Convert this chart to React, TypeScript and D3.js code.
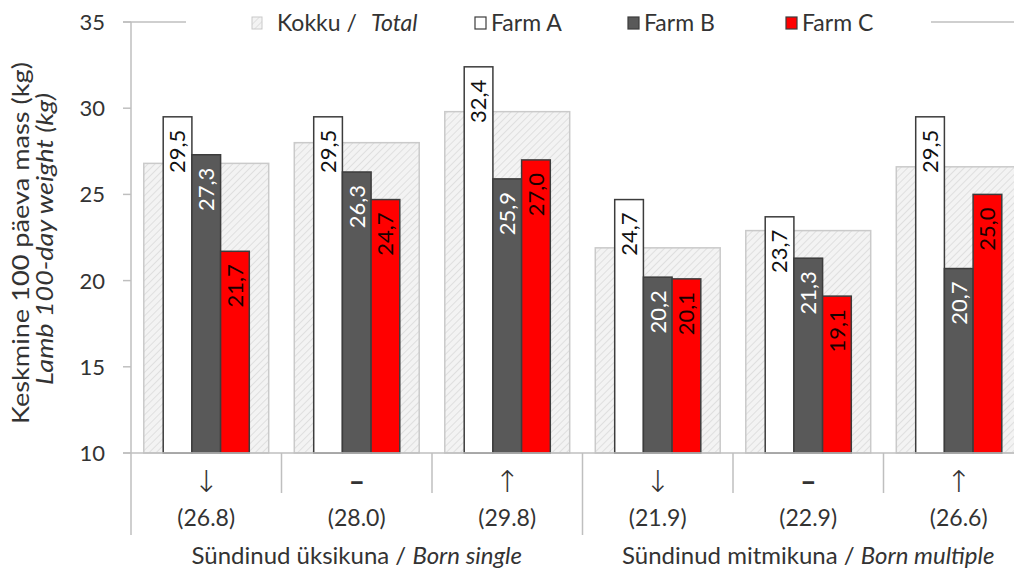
import React from "react";
import * as d3 from "d3";

// Lamb 100-day weight by birth type and farm
const categories = ["single-low", "single-mid", "single-high", "multi-low", "multi-mid", "multi-high"];
const trendMarks = ["↓", "–", "↑", "↓", "–", "↑"];
const totalValues = [26.8, 28.0, 29.8, 21.9, 22.9, 26.6];
const farmA = [29.5, 29.5, 32.4, 24.7, 23.7, 29.5];
const farmB = [27.3, 26.3, 25.9, 20.2, 21.3, 20.7];
const farmC = [21.7, 24.7, 27.0, 20.1, 19.1, 25.0];
const farmNames = ["Farm A", "Farm B", "Farm C"];
const yTicks = [10, 15, 20, 25, 30, 35];
const groupLabels = [
  { et: "Sündinud üksikuna / ", en: "Born single" },
  { et: "Sündinud mitmikuna / ", en: "Born multiple" },
];

const W = 1014;
const H = 569;
const FONT = "Lato, 'Open Sans', sans-serif";
const AXIS = "#bfbfbf";
const BORDER = "#3c3c3c";
const TEXT = "#333333";
const farmFill = ["#ffffff", "#595959", "#ff0000"];
const farmText = ["#111111", "#ffffff", "#1a0000"];

const fmt = (v: number) => v.toFixed(1).replace(".", ",");

export default function App() {
  const x = d3.scaleBand<string>().domain(categories).range([131, 1034]).padding(0);
  const y = d3.scaleLinear().domain([10, 35]).range([453, 22]);
  const bw = x.bandwidth();
  const totalW = bw * 0.83;
  const inner = d3
    .scaleBand<string>()
    .domain(farmNames)
    .range([-bw * 0.286, bw * 0.286])
    .padding(0);
  const farmSeries = [farmA, farmB, farmC];
  const base = y(10);

  return (
    <svg
      width={W}
      height={H}
      style={{ position: "absolute", left: 0, top: 0, background: "#fff" }}
      fontFamily={FONT}
    >
      <defs>
        <pattern id="hatch" width="5" height="5" patternUnits="userSpaceOnUse" patternTransform="rotate(45)">
          <rect width="5" height="5" fill="#f3f3f3" />
          <line x1="0" y1="0" x2="0" y2="5" stroke="#dadada" strokeWidth="1.6" />
        </pattern>
      </defs>

      {/* top gridline at 35 */}
      <line x1={123} x2={1034} y1={y(35)} y2={y(35)} stroke={AXIS} strokeWidth={1.5} />

      {/* y axis */}
      <line x1={131} x2={131} y1={y(35)} y2={535} stroke={AXIS} strokeWidth={1.5} />
      {yTicks.map((t) => (
        <g key={t}>
          <line x1={123} x2={131} y1={y(t)} y2={y(t)} stroke={AXIS} strokeWidth={1.5} />
          <text x={105} y={y(t)} dy="0.36em" textAnchor="end" fontSize={22} fill={TEXT}>
            {t}
          </text>
        </g>
      ))}

      {/* y axis title */}
      <text
        transform={`translate(29,243) rotate(-90)`}
        textAnchor="middle"
        fontSize={23}
        fill={TEXT}
        textLength={362}
        lengthAdjust="spacingAndGlyphs"
      >
        Keskmine 100 päeva mass (kg)
      </text>
      <text
        transform={`translate(53,239) rotate(-90)`}
        textAnchor="middle"
        fontSize={23}
        fontStyle="italic"
        fill={TEXT}
        textLength={292}
        lengthAdjust="spacingAndGlyphs"
      >
        Lamb 100-day weight (kg)
      </text>

      {/* total bars */}
      {categories.map((c, i) => {
        const cx = (x(c) as number) + bw / 2;
        return (
          <rect
            key={"t" + c}
            x={cx - totalW / 2}
            y={y(totalValues[i])}
            width={totalW}
            height={base - y(totalValues[i])}
            fill="url(#hatch)"
            stroke="#cacaca"
            strokeWidth={1.5}
          />
        );
      })}

      {/* farm bars with value labels */}
      {categories.map((c, i) => {
        const cx = (x(c) as number) + bw / 2;
        return (
          <g key={"f" + c}>
            {farmSeries.map((s, k) => {
              const bx = cx + (inner(farmNames[k]) as number);
              const top = y(s[i]);
              const w = inner.bandwidth();
              return (
                <g key={k}>
                  <rect
                    x={bx}
                    y={top}
                    width={w}
                    height={base - top}
                    fill={farmFill[k]}
                    stroke={BORDER}
                    strokeWidth={1.5}
                  />
                  <text
                    transform={`translate(${bx + w / 2},${top + 13}) rotate(-90)`}
                    textAnchor="end"
                    dy="0.36em"
                    fontSize={22}
                    fill={farmText[k]}
                  >
                    {fmt(s[i])}
                  </text>
                </g>
              );
            })}
          </g>
        );
      })}

      {/* x axis */}
      <line x1={123} x2={1034} y1={base} y2={base} stroke={AXIS} strokeWidth={1.5} />
      {categories.slice(1).map((c, i) => (
        <line
          key={"sep" + c}
          x1={x(c) as number}
          x2={x(c) as number}
          y1={base}
          y2={i === 2 ? 535 : 493}
          stroke={AXIS}
          strokeWidth={1.5}
        />
      ))}
      {categories.map((c, i) => {
        const cx = (x(c) as number) + bw / 2;
        const dash = trendMarks[i] === "–";
        return (
          <g key={"lab" + c}>
            <text
              x={cx}
              y={481}
              dy="0.35em"
              textAnchor="middle"
              fontSize={dash ? 28 : 30}
              fontWeight={dash ? 900 : 300}
              fill={TEXT}
              fontFamily={dash ? FONT : "'DejaVu Sans', sans-serif"}
            >
              {trendMarks[i]}
            </text>
            <text x={cx} y={518} dy="0.35em" textAnchor="middle" fontSize={23} fill={TEXT}>
              ({totalValues[i].toFixed(1)})
            </text>
          </g>
        );
      })}
      {groupLabels.map((g, j) => {
        const x0 = x(categories[j * 3]) as number;
        const cx = x0 + (bw * 3) / 2;
        return (
          <text key={j} x={cx} y={564} textAnchor="middle" fontSize={24} fill={TEXT}>
            {g.et}
            <tspan fontStyle="italic">{g.en}</tspan>
          </text>
        );
      })}

      {/* legend */}
      <rect x={186} y={6} width={745} height={34} fill="#fff" />
      <rect x={252} y={17} width={10} height={12} fill="url(#hatch)" stroke="#cacaca" strokeWidth={1} />
      <text x={277} y={23} dy="0.36em" fontSize={23} fill={TEXT}>
        Kokku /
        <tspan fontStyle="italic" dx={14}>
          Total
        </tspan>
      </text>
      {farmNames.map((n, k) => {
        const sx = [475, 628, 786][k];
        return (
          <g key={n}>
            <rect x={sx} y={17} width={11} height={12} fill={farmFill[k]} stroke={BORDER} strokeWidth={1.2} />
            <text x={sx + 16} y={23} dy="0.36em" fontSize={23} fill={TEXT}>
              {n}
            </text>
          </g>
        );
      })}
    </svg>
  );
}
